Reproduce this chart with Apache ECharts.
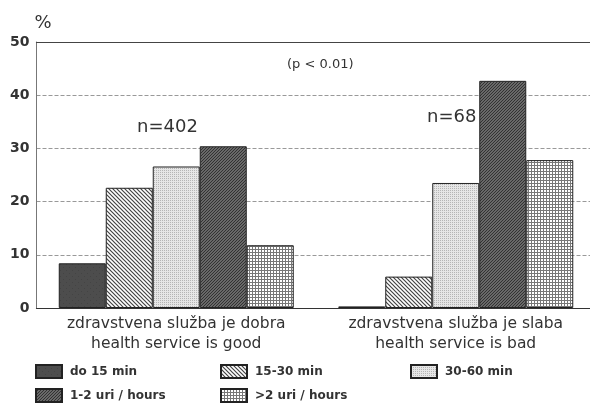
<!DOCTYPE html>
<html>
<head>
<meta charset="utf-8">
<script src="https://cdn.jsdelivr.net/npm/echarts@6/dist/echarts.min.js"></script>
<style>html,body{margin:0;padding:0;background:#fff}#c{width:590px;height:405px}</style>
</head>
<body>
<div id="c"></div>
<script>
var categoriesSl = ['zdravstvena služba je dobra', 'zdravstvena služba je slaba'];
var categoriesEn = ['health service is good', 'health service is bad'];
var seriesNames = ['do 15 min', '15-30 min', '30-60 min', '1-2 uri / hours', '>2 uri / hours'];
var do15 = [8.4, 0.3];
var min15to30 = [22.6, 5.9];
var min30to60 = [26.6, 23.5];
var hours1to2 = [30.4, 42.7];
var hoursOver2 = [11.8, 27.8];
var yTicks = [0, 10, 20, 30, 40, 50];

function makePattern(kind) {
  var c = document.createElement('canvas');
  var s = 6;
  c.width = s; c.height = s;
  var g = c.getContext('2d');
  if (kind === 0) {
    g.fillStyle = '#4d4d4d'; g.fillRect(0, 0, s, s);
    g.fillStyle = '#444'; g.fillRect(0, 0, 1, 1); g.fillRect(3, 3, 1, 1);
  } else if (kind === 1) {
    c.width = 4; c.height = 4; s = 4;
    g.fillStyle = '#fff'; g.fillRect(0, 0, s, s);
    g.strokeStyle = '#444'; g.lineWidth = 1.2;
    g.beginPath();
    g.moveTo(-1, -1); g.lineTo(s + 1, s + 1);
    g.moveTo(-1, s - 1); g.lineTo(1, s + 1);
    g.moveTo(s - 1, -1); g.lineTo(s + 1, 1);
    g.stroke();
  } else if (kind === 2) {
    c.width = 2; c.height = 2;
    g.fillStyle = '#e6e6e6'; g.fillRect(0, 0, 2, 2);
    g.fillStyle = '#b5b5b5'; g.fillRect(0, 0, 1, 1);
  } else if (kind === 3) {
    c.width = 3; c.height = 3; s = 3;
    g.fillStyle = '#808080'; g.fillRect(0, 0, s, s);
    g.strokeStyle = '#2e2e2e'; g.lineWidth = 1.1;
    g.beginPath();
    g.moveTo(-1, s + 1); g.lineTo(s + 1, -1);
    g.moveTo(-1, 1); g.lineTo(1, -1);
    g.moveTo(s - 1, s + 1); g.lineTo(s + 1, s - 1);
    g.stroke();
  } else {
    c.width = 3; c.height = 3;
    g.fillStyle = '#fff'; g.fillRect(0, 0, 3, 3);
    g.fillStyle = '#777'; g.fillRect(0, 0, 3, 1); g.fillRect(0, 0, 1, 3);
  }
  return { image: c, repeat: 'repeat' };
}

var dataSets = [do15, min15to30, min30to60, hours1to2, hoursOver2];
var categories = categoriesSl.map(function (s, i) { return s + '\n' + categoriesEn[i]; });
var FONT = 'DejaVu Sans';

var series = seriesNames.map(function (name, i) {
  return {
    name: name,
    type: 'bar',
    data: dataSets[i],
    barWidth: 47,
    barGap: '0%',
    itemStyle: { color: makePattern(i), borderColor: '#222', borderWidth: 1 },
    emphasis: { disabled: true }
  };
});

// legend slots: [left, top] for each series
var legendSlots = [[35, 364], [220, 364], [410, 364], [35, 388], [220, 388]];
var legends = seriesNames.map(function (name, i) {
  return {
    left: legendSlots[i][0], top: legendSlots[i][1],
    data: [name], itemWidth: 26, itemHeight: 13,
    textStyle: { fontFamily: FONT, fontWeight: 'bold', fontSize: 12, color: '#333', padding: [0, 0, 0, 3] },
    icon: 'rect', selectedMode: false, padding: 0
  };
});

var chart = echarts.init(document.getElementById('c'), null, { renderer: 'canvas' });
chart.setOption({
  animation: false,
  backgroundColor: '#fff',
  grid: { left: 36.5, top: 42, width: 559, height: 266, show: false,
    outerBoundsMode: 'none', containLabel: false },
  legend: legends,
  xAxis: [{
    type: 'category',
    data: categories,
    axisLine: { lineStyle: { color: '#333', width: 1.2 } },
    axisTick: { show: true, inside: true, alignWithLabel: true, length: 5, lineStyle: { color: '#333' } },
    axisLabel: { interval: 0, fontFamily: FONT, fontSize: 15.5, color: '#333', lineHeight: 20, margin: 6 }
  }, {
    type: 'category',
    data: categories,
    position: 'top',
    axisLine: { show: true, lineStyle: { color: '#444', width: 1.2 } },
    axisTick: { show: false },
    axisLabel: { show: false },
    splitLine: { show: false }
  }],
  yAxis: {
    type: 'value', min: 0, max: 50, interval: 10,
    name: '%', nameLocation: 'end', nameGap: 10,
    nameTextStyle: { fontFamily: FONT, fontSize: 18, color: '#333', align: 'left', padding: [0, 0, 0, -2] },
    axisLine: { show: true, lineStyle: { color: '#777' } },
    axisTick: { show: false },
    axisLabel: { fontFamily: FONT, fontWeight: 'bold', fontSize: 14, color: '#333', margin: 7,
      formatter: function (v) { return yTicks.indexOf(v) >= 0 ? String(v) : ''; } },
    splitLine: { show: true, lineStyle: { color: '#999', type: [4, 2], width: 1 } }
  },
  graphic: [
    { type: 'text', left: 287, top: 58, style: { text: '(p < 0.01)', fontFamily: FONT, fontSize: 13, fill: '#333' } },
    { type: 'text', left: 137, top: 118, style: { text: 'n=402', fontFamily: FONT, fontSize: 18, fill: '#333' } },
    { type: 'text', left: 427, top: 108, style: { text: 'n=68', fontFamily: FONT, fontSize: 18, fill: '#333' } }
  ],
  series: series
});
</script>
</body>
</html>
